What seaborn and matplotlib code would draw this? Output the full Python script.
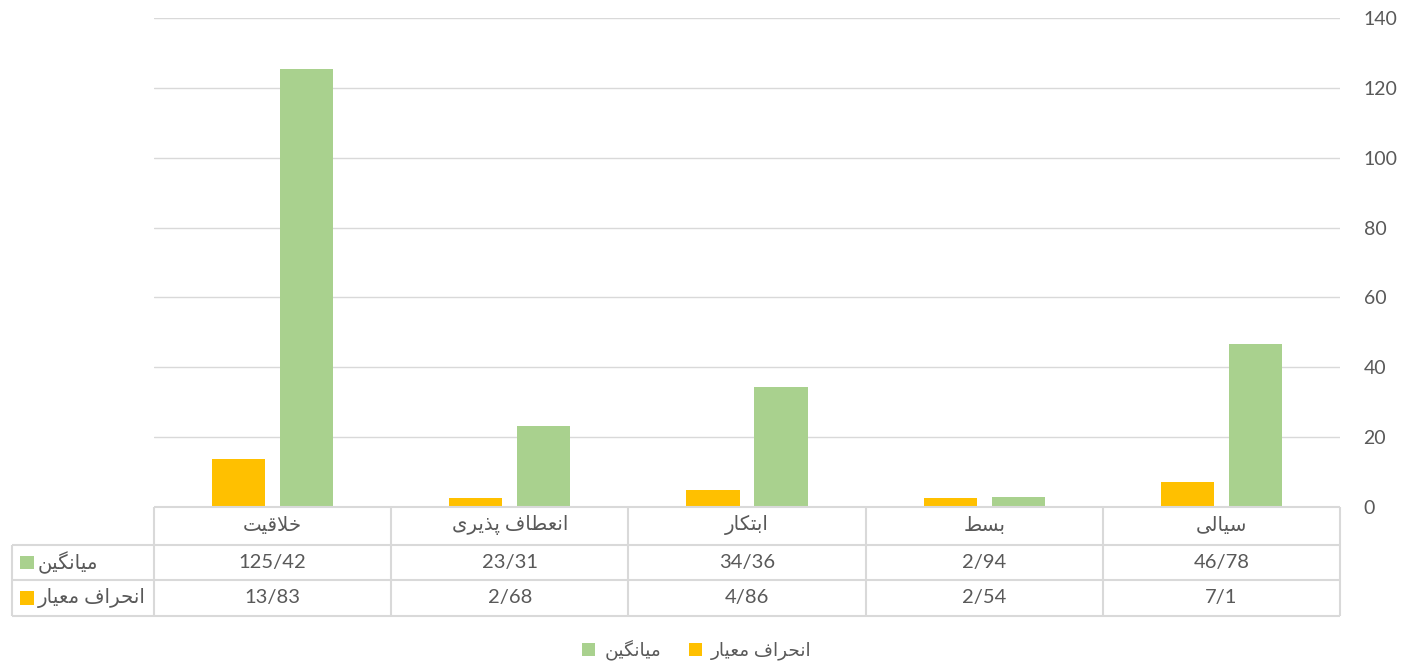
import matplotlib
matplotlib.use("Agg")
import matplotlib.pyplot as plt
import matplotlib.transforms as mtransforms
from matplotlib.patches import Patch, Rectangle
import pandas as pd
import seaborn as sns

# data
categories = ["خلاقیت", "انعطاف پذیری", "ابتکار", "بسط", "سیالی"]
mean_vals = [125.42, 23.31, 34.36, 2.94, 46.78]
std_vals = [13.83, 2.68, 4.86, 2.54, 7.1]
series_names = ["انحراف معیار", "میانگین"]
y_ticks = [0, 20, 40, 60, 80, 100, 120, 140]

GREEN = "#A9D18E"
ORANGE = "#FFC000"
TEXT = "#595959"
GRID = "#D9D9D9"

# matplotlib has no arabic shaping, so map letters to presentation forms
FORMS = {
    "\u0627": ("\uFE8D", "\uFE8E", None, None),
    "\u0628": ("\uFE8F", "\uFE90", "\uFE91", "\uFE92"),
    "\u062A": ("\uFE95", "\uFE96", "\uFE97", "\uFE98"),
    "\u062D": ("\uFEA1", "\uFEA2", "\uFEA3", "\uFEA4"),
    "\u062E": ("\uFEA5", "\uFEA6", "\uFEA7", "\uFEA8"),
    "\u0630": ("\uFEAB", "\uFEAC", None, None),
    "\u0631": ("\uFEAD", "\uFEAE", None, None),
    "\u0633": ("\uFEB1", "\uFEB2", "\uFEB3", "\uFEB4"),
    "\u0637": ("\uFEC1", "\uFEC2", "\uFEC3", "\uFEC4"),
    "\u0639": ("\uFEC9", "\uFECA", "\uFECB", "\uFECC"),
    "\u0641": ("\uFED1", "\uFED2", "\uFED3", "\uFED4"),
    "\u0642": ("\uFED5", "\uFED6", "\uFED7", "\uFED8"),
    "\u0644": ("\uFEDD", "\uFEDE", "\uFEDF", "\uFEE0"),
    "\u0645": ("\uFEE1", "\uFEE2", "\uFEE3", "\uFEE4"),
    "\u0646": ("\uFEE5", "\uFEE6", "\uFEE7", "\uFEE8"),
    "\u067E": ("\uFB56", "\uFB57", "\uFB58", "\uFB59"),
    "\u06A9": ("\uFB8E", "\uFB8F", "\uFB90", "\uFB91"),
    "\u06AF": ("\uFB92", "\uFB93", "\uFB94", "\uFB95"),
    "\u06CC": ("\uFBFC", "\uFBFD", "\uFBFE", "\uFBFF"),
}


def fa(text):
    out = []
    i = 0
    while i < len(text):
        c = text[i]
        if c not in FORMS:
            out.append(c)
            i += 1
            continue
        prev = text[i - 1] if i > 0 else None
        nxt = text[i + 1] if i + 1 < len(text) else None
        link_prev = prev in FORMS and FORMS[prev][2] is not None
        if c == "\u0644" and nxt == "\u0627":
            out.append("\uFEFC" if link_prev else "\uFEFB")
            i += 2
            continue
        iso, fin, ini, med = FORMS[c]
        link_next = ini is not None and nxt in FORMS
        if link_prev and link_next:
            g = med
        elif link_prev:
            g = fin
        elif link_next:
            g = ini
        else:
            g = iso
        out.append(g)
        i += 1
    return "".join(reversed(out))


def fmt(v):
    return f"{v:g}".replace(".", "/")


sns.set_style("white")
plt.rcParams["font.family"] = ["Lato", "DejaVu Sans"]

df = pd.DataFrame({
    "category": categories * 2,
    "series": [series_names[0]] * len(categories) + [series_names[1]] * len(categories),
    "value": std_vals + mean_vals,
})

fig = plt.figure(figsize=(14.05, 6.62), dpi=100)
ax = fig.add_axes([154 / 1405, 1 - 507 / 662, (1340 - 154) / 1405, (507 - 18) / 662])

sns.barplot(data=df, x="category", y="value", hue="series", order=categories,
            hue_order=series_names, palette=[ORANGE, GREEN], width=0.574, gap=0.22,
            saturation=1, legend=False, ax=ax)
for p in ax.patches:
    p.set_edgecolor("none")

ax.set_xlim(-0.5, len(categories) - 0.5)
ax.set_ylim(0, 140)
ax.set_yticks(y_ticks)
ax.yaxis.tick_right()
ax.tick_params(axis="y", length=0, pad=17, labelsize=14, labelcolor=TEXT)
ax.set_xticks([])
ax.set_xlabel("")
ax.set_ylabel("")
ax.grid(axis="y", color=GRID, linewidth=1)
ax.set_axisbelow(True)
for s in ax.spines.values():
    s.set_visible(False)

# data table under the plot
tr = mtransforms.blended_transform_factory(ax.transData, ax.transAxes)
n = len(categories)
lab_left = -1.0987
row_y = [0, -0.0777, -0.1493, -0.2229]
lkw = dict(color=GRID, lw=1.5, transform=tr, clip_on=False, solid_capstyle="butt")
ax.plot([-0.5, n - 0.5], [row_y[0]] * 2, **lkw)
for y in row_y[1:]:
    ax.plot([lab_left, n - 0.5], [y, y], **lkw)
for k in range(n + 1):
    ax.plot([k - 0.5, k - 0.5], [row_y[0], row_y[3]], **lkw)
ax.plot([lab_left, lab_left], [row_y[1], row_y[3]], **lkw)

for i, cat in enumerate(categories):
    ax.text(i, -0.037, fa(cat), transform=tr, ha="center", va="center",
            fontsize=14.2, color=TEXT)
    ax.text(i, -0.113, fmt(mean_vals[i]), transform=tr, ha="center", va="center",
            fontsize=14.5, color=TEXT)
    ax.text(i, -0.186, fmt(std_vals[i]), transform=tr, ha="center", va="center",
            fontsize=14.5, color=TEXT)

row_series = [(series_names[1], GREEN, -0.113), (series_names[0], ORANGE, -0.186)]
for name, col, y in row_series:
    ax.add_patch(Rectangle((lab_left + 0.034, y - 0.0135), 0.058, 0.027,
                           facecolor=col, edgecolor="none", transform=tr, clip_on=False))
    ax.text(lab_left + 0.11, y, fa(name), transform=tr, ha="left", va="center",
            fontsize=14.2, color=TEXT)

handles = [Patch(facecolor=GREEN, edgecolor="none", label=fa(series_names[1])),
           Patch(facecolor=ORANGE, edgecolor="none", label=fa(series_names[0]))]
fig.legend(handles=handles, loc="center", bbox_to_anchor=(0.496, 0.018), ncol=2,
           frameon=False, fontsize=13.3, labelcolor=TEXT, handlelength=0.7,
           handleheight=0.7, handletextpad=0.5, columnspacing=1.5)

fig.savefig("out.png", dpi=100)
plt.close(fig)
